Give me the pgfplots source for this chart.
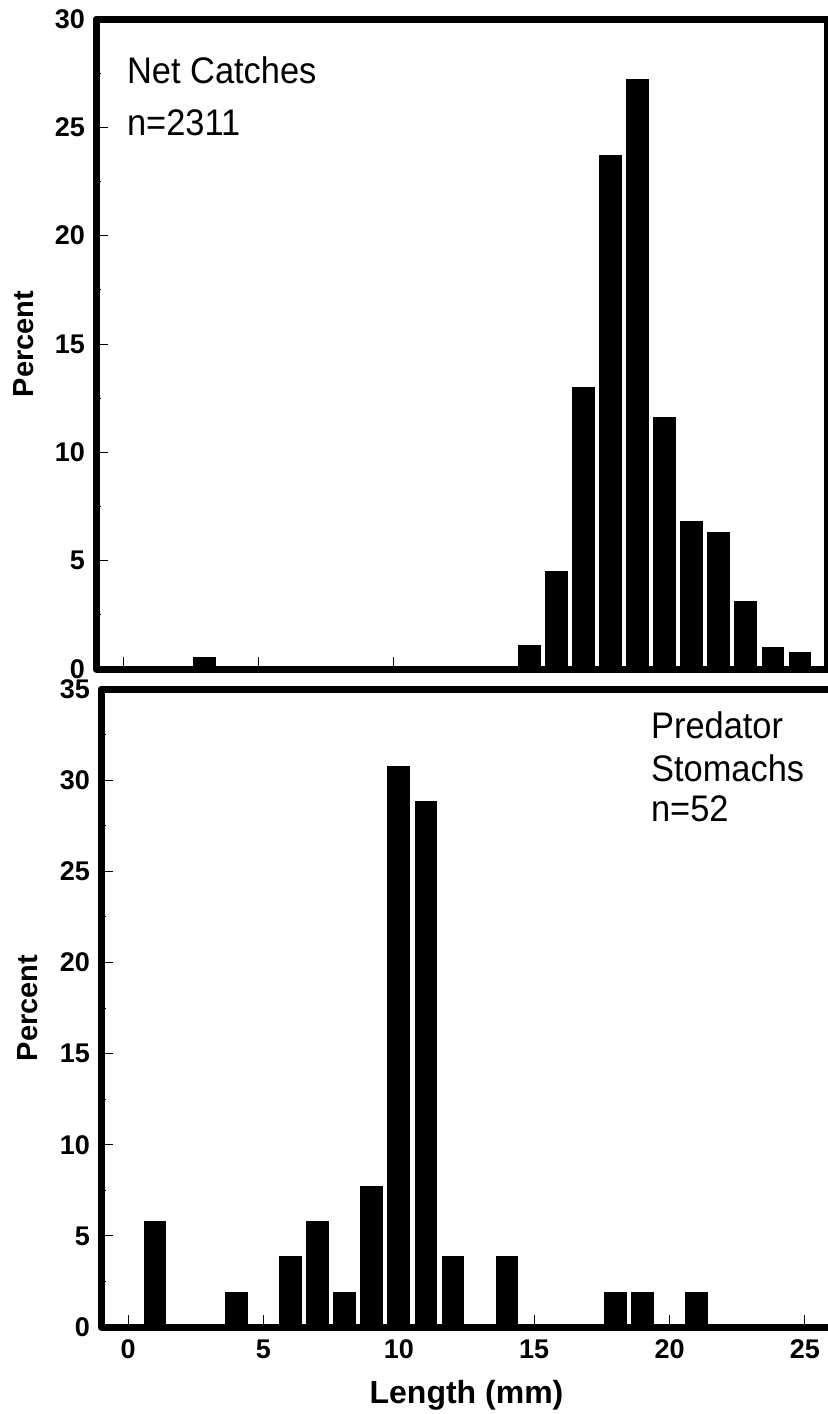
\documentclass[border=0pt]{standalone}
\usepackage{fontspec}
\setmainfont{Liberation Sans}
\newfontfamily\narrow[FakeStretch=0.93]{Liberation Sans}
\usepackage{pgfplots}
\pgfplotsset{compat=1.18}

% length histograms, percent per 1 mm class
\pgfplotstableread{
len pct
3  0.55
15 1.1
16 4.5
17 13.0
18 23.7
19 27.2
20 11.6
21 6.8
22 6.3
23 3.1
24 1.0
25 0.75
}\netcatch
\pgfplotstableread{
len pct
1  5.77
4  1.92
6  3.85
7  5.77
8  1.92
9  7.69
10 30.77
11 28.85
12 3.85
14 3.85
18 1.92
19 1.92
21 1.92
}\stomach

\pgfplotsset{
  panel/.style={
    scale only axis, width=365.5pt,
    xmin=-1, xmax=26, ymin=0,
    axis on top,
    axis line style={line width=3.5pt, line join=round},
    xtick pos=bottom, ytick pos=left,
    tick align=inside,
    xtick={0,5,...,25}, minor y tick num=1,
    major tick length=6pt, minor tick length=2.5pt,
    tick style={line width=0.5pt, black},
    ticklabel style={font=\fontsize{13.5}{15}\selectfont\bfseries},
    /pgf/number format/assume math mode=true,
    yticklabel style={xshift=-2pt},
    xticklabel style={yshift=-3pt},
    ylabel={Percent},
  },
  bars/.style={ybar, bar width=0.8, fill=black, draw=black, line width=0pt},
}
\tikzset{ann/.style={font=\narrow\fontsize{18.5}{22}\selectfont, anchor=base west, inner sep=0pt}}

\begin{document}
\begin{tikzpicture}
\begin{axis}[panel,
  at={(48pt,-334.5pt)}, anchor=south west,
  height=325pt, ymax=30, ytick={0,5,...,30},
  xticklabels={},
  every axis y label/.style={at={(axis description cs:-0.099,0.5)}, rotate=90, anchor=center,
    font=\fontsize{14.5}{17}\selectfont\bfseries},
]
\addplot[bars] table[x=len, y=pct] {\netcatch};
\node[ann] at (rel axis cs:0.042,0.901) {Net Catches};
\node[ann] at (rel axis cs:0.042,0.821) {n=2311};
\end{axis}

\begin{axis}[panel,
  at={(50.5pt,-663.5pt)}, anchor=south west,
  height=319pt, ymax=35, ytick={0,5,...,35},
  xlabel={Length (mm)},
  every axis x label/.style={at={(axis description cs:0.5,0)}, anchor=center, yshift=-34pt,
    font=\fontsize{16}{18}\selectfont\bfseries},
  every axis y label/.style={at={(axis description cs:-0.1,0.5)}, rotate=90, anchor=center,
    font=\fontsize{14.5}{17}\selectfont\bfseries},
]
\addplot[bars] table[x=len, y=pct] {\stomach};
\node[ann] at (rel axis cs:0.752,0.922) {Predator};
\node[ann] at (rel axis cs:0.752,0.855) {Stomachs};
\node[ann] at (rel axis cs:0.752,0.792) {n=52};
\end{axis}
\pgfresetboundingbox
\path[use as bounding box] (0,0) rectangle (414pt,-707pt);
\end{tikzpicture}
\end{document}
